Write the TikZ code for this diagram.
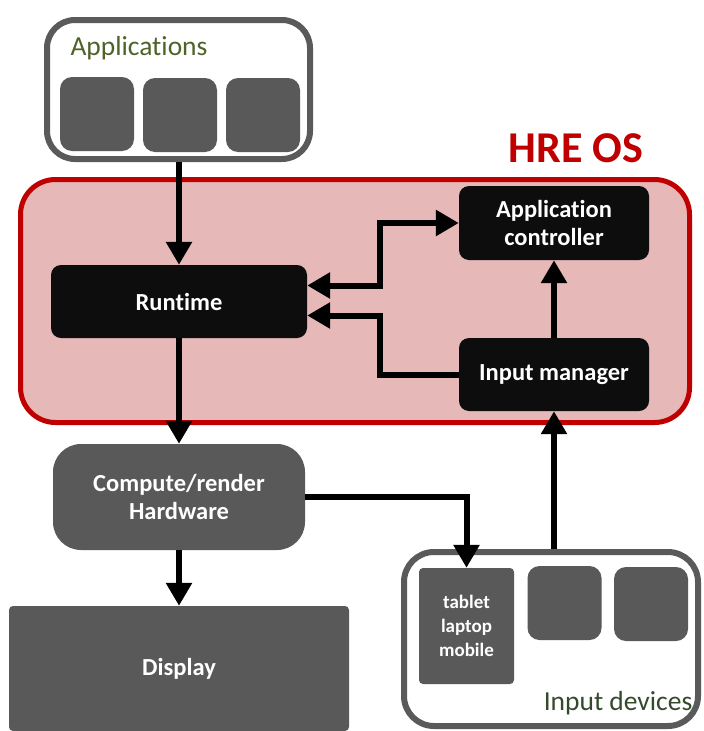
\documentclass[tikz,border=0pt]{standalone}
\usepackage{fontspec}
\setmainfont{Carlito}[Ligatures=NoCommon]
\usetikzlibrary{arrows.meta,positioning,calc}
\definecolor{boxgray}{HTML}{595959}
\definecolor{framegray}{HTML}{5A5A5A}
\definecolor{osred}{HTML}{C00000}
\definecolor{ospink}{HTML}{E6B8B7}
\definecolor{appgreen}{HTML}{4F6228}
\definecolor{devgreen}{HTML}{344A2C}
\tikzset{
box/.style={rectangle, rounded corners=#1, fill=boxgray, text=white, align=center, inner sep=0pt,
    font=\bfseries\fontsize{24.5}{28}\selectfont},
box/.default=10pt,
blackbox/.style={box=10pt, fill=black!95},
frame/.style={rectangle, rounded corners=#1, draw=framegray, line width=6pt, fill=white},
frame/.default=28pt,
arr/.style={-{Triangle[length=23pt,width=25pt]}, line width=6pt},
darr/.style={{Triangle[length=23pt,width=25pt]}-{Triangle[length=23pt,width=25pt]}, line width=6pt},
}
\tikzstyle{every node}=[font=\fontsize{24}{28}\selectfont]

\begin{document}
\begin{tikzpicture}[
        x=1pt, y=-1pt,
        group label/.style={font=\fontsize{27.5}{30}\selectfont, inner sep=0pt}
    ]
    \useasboundingbox (0,0) rectangle (704,731);

    % operating system
    \node[rectangle, rounded corners=35pt, draw=osred, fill=ospink, line width=5pt,
        minimum width=669pt, minimum height=243pt] (os) at (355,301) {};
    \node[text=osred, font=\bfseries\fontsize{44}{48}\selectfont, inner sep=0pt] (oslabel) at (576,148) {HRE OS};
    \node[blackbox, minimum width=256pt, minimum height=73pt] (runtime) at (179,301.5) {Runtime};
    \node[blackbox, minimum width=190pt, minimum height=74pt] (appctrl) at (554,223) {Application\\controller};
    \node[blackbox, minimum width=190pt, minimum height=73pt] (inputmgr) at (554,374.5) {Input manager};

    % applications
    \node[frame, minimum width=263pt, minimum height=139pt] (apps) at (178.5,89.5) {};
    \node[group label, text=appgreen] (applabel) at (139,48) {Applications};
    \node[box=12pt, minimum size=74pt] (app1) at (97,114) {};
    \node[box=12pt, minimum size=74pt] (app2) at (180,115) {};
    \node[box=12pt, minimum size=74pt] (app3) at (263,115) {};

    % hardware
    \node[box=28pt, minimum width=252pt, minimum height=106pt] (compute) at (179,497) {Compute/render\\Hardware};
    \node[box=4pt, minimum width=340pt, minimum height=125pt] (display) at (179,668.5) {Display};

    % input devices
    \node[frame=30pt, minimum width=294pt, minimum height=174pt] (inputdev) at (551,639) {};
    \node[group label, text=devgreen] (devlabel) at (618,703) {Input devices};
    \node[box=4pt, minimum width=95pt, minimum height=116pt,
        font=\bfseries\fontsize{19}{24}\selectfont] (tablet) at (466.5,626) {tablet\\laptop\\mobile};
    \node[box=12pt, minimum size=74pt] (dev2) at (564.5,603) {};
    \node[box=12pt, minimum size=74pt] (dev3) at (651,604) {};

    \draw[arr] (apps.south -| runtime.north) -- (runtime.north);
    \draw[darr] ([yshift=16pt]runtime.east) -- ++(73,0) |- (appctrl.west);
    \draw[arr] (inputmgr.west) -- ++(-79,0) |- ([yshift=-14pt]runtime.east);
    \draw[arr] (inputmgr.north) -- (appctrl.south);
    \draw[arr] (inputdev.north -| inputmgr.south) -- (inputmgr.south);
    \draw[arr] (runtime.south) -- (compute.north);
    \draw[arr] (compute.south) -- (display.north);
    \draw[arr] (compute.east) -| (tablet.north);
\end{tikzpicture}
\end{document}
